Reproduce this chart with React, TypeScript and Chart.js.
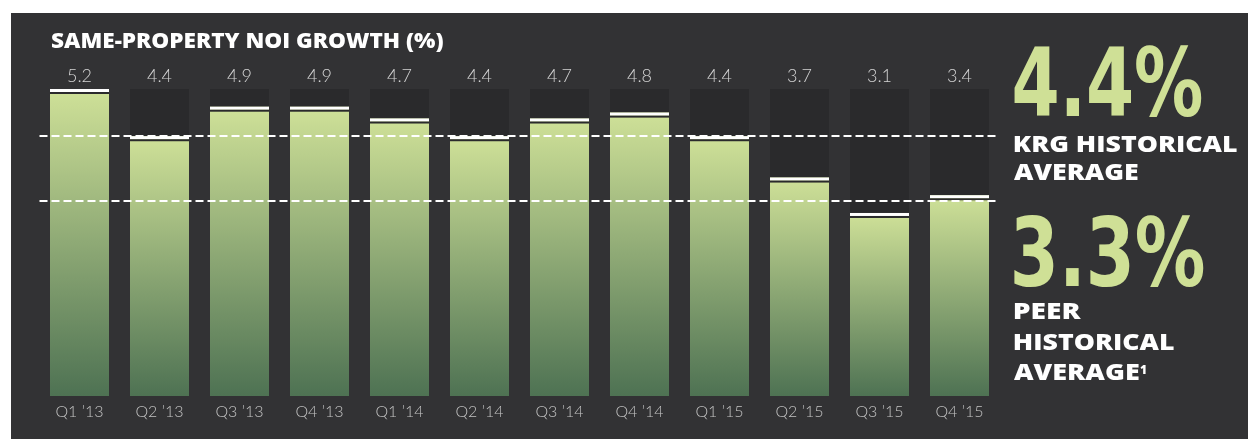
import React, { useEffect, useRef } from "react";
import { Chart, registerables } from "chart.js";

Chart.register(...registerables);

// ---- data ----
const quarters = ["Q1 \u201913", "Q2 \u201913", "Q3 \u201913", "Q4 \u201913", "Q1 \u201914", "Q2 \u201914", "Q3 \u201914", "Q4 \u201914", "Q1 \u201915", "Q2 \u201915", "Q3 \u201915", "Q4 \u201915"];
const noiGrowth = [5.2, 4.4, 4.9, 4.9, 4.7, 4.4, 4.7, 4.8, 4.4, 3.7, 3.1, 3.4];
const trackMax = 5.2;
const trackValues = quarters.map(() => trackMax);
const krgAverage = 4.4;
const peerAverage = 3.3;
const chartTitle = "SAME-PROPERTY NOI GROWTH (%)";
const krgLabelLines = ["KRG HISTORICAL", "AVERAGE"];
const peerLabelLines = ["PEER", "HISTORICAL", "AVERAGE"];

// ---- styles ----
const PANEL = "#323234";
const TRACK = "#2a2a2c";
const GREEN_TOP = "#cfe198";
const GREEN_BOTTOM = "#4e7253";
const TEXT_GREEN = "#cfe096";

function fitText(ctx: CanvasRenderingContext2D, text: string, x: number, y: number, font: string, width: number, color: string) {
  ctx.save();
  ctx.font = font;
  ctx.fillStyle = color;
  ctx.textAlign = "left";
  ctx.textBaseline = "alphabetic";
  const m = ctx.measureText(text);
  const ink = m.actualBoundingBoxLeft + m.actualBoundingBoxRight;
  const s = width / ink;
  ctx.translate(x + m.actualBoundingBoxLeft * s, y);
  ctx.scale(s, 1);
  ctx.fillText(text, 0, 0);
  ctx.restore();
}

const overlayPlugin = {
  id: "overlay",
  afterDatasetsDraw(chart: any) {
    const { ctx, chartArea, scales } = chart;
    const meta = chart.getDatasetMeta(0);
    ctx.save();
    // caps
    meta.data.forEach((bar: any) => {
      const { x, y, width } = bar.getProps(["x", "y", "width"], true);
      ctx.fillStyle = "#ffffff";
      ctx.fillRect(x - width / 2, y, width, 3);
      ctx.fillStyle = TRACK;
      ctx.fillRect(x - width / 2, y + 3, width, 2);
    });
    // value labels
    const labelY = scales.y.getPixelForValue(trackMax) - 7;
    ctx.font = '300 18px Lato, "Open Sans", sans-serif';
    ctx.fillStyle = "#d4d4d4";
    ctx.textAlign = "center";
    ctx.textBaseline = "alphabetic";
    meta.data.forEach((bar: any, i: number) => {
      ctx.fillText(noiGrowth[i].toFixed(1), bar.x, labelY);
    });
    // dashed average lines
    ctx.strokeStyle = "#ffffff";
    ctx.lineWidth = 2;
    ctx.setLineDash([8, 4]);
    [krgAverage, peerAverage].forEach((v) => {
      const y = Math.round(scales.y.getPixelForValue(v));
      ctx.beginPath();
      ctx.moveTo(chartArea.left, y);
      ctx.lineTo(chartArea.right, y);
      ctx.stroke();
    });
    ctx.restore();
  },
  afterDraw(chart: any) {
    const ctx: CanvasRenderingContext2D = chart.ctx;
    // title
    fitText(ctx, chartTitle, 40, 35, '800 21px "Open Sans", sans-serif', 392, "#ffffff");
    const bigFont = 'bold 94px "Liberation Sans Narrow", "DejaVu Sans Condensed", "Liberation Sans", sans-serif';
    const lblFont = '800 23px "Open Sans", sans-serif';
    fitText(ctx, krgAverage.toFixed(1) + "%", 1003, 103, bigFont, 188, TEXT_GREEN);
    fitText(ctx, krgLabelLines[0], 1003, 139, lblFont, 223, "#ffffff");
    fitText(ctx, krgLabelLines[1], 1003, 167, lblFont, 124, "#ffffff");
    fitText(ctx, peerAverage.toFixed(1) + "%", 1003, 273, bigFont, 190, TEXT_GREEN);
    fitText(ctx, peerLabelLines[0], 1003, 306, lblFont, 67, "#ffffff");
    fitText(ctx, peerLabelLines[1], 1003, 337, lblFont, 160, "#ffffff");
    fitText(ctx, peerLabelLines[2], 1003, 367, lblFont, 125, "#ffffff");
    ctx.save();
    ctx.font = '800 12px "Open Sans", sans-serif';
    ctx.fillStyle = "#ffffff";
    ctx.textBaseline = "alphabetic";
    ctx.fillText("1", 1129, 361);
    ctx.restore();
  },
};

export default function App() {
  const canvasRef = useRef<HTMLCanvasElement | null>(null);

  useEffect(() => {
    if (!canvasRef.current) return;
    const chart = new Chart(canvasRef.current, {
      type: "bar",
      data: {
        labels: quarters,
        datasets: [
          {
            label: "Same-property NOI growth",
            data: noiGrowth,
            order: 1,
            grouped: false,
            barPercentage: 0.7375,
            categoryPercentage: 1,
            borderWidth: 0,
            backgroundColor: (c: any) => {
              const { chart: ch } = c;
              const { ctx, chartArea, scales } = ch;
              if (!chartArea || c.raw == null) return GREEN_TOP;
              const top = scales.y.getPixelForValue(c.raw);
              const bottom = scales.y.getPixelForValue(0);
              const g = ctx.createLinearGradient(0, top, 0, bottom);
              g.addColorStop(0, GREEN_TOP);
              g.addColorStop(1, GREEN_BOTTOM);
              return g;
            },
          } as any,
          {
            label: "track",
            data: trackValues,
            order: 2,
            grouped: false,
            barPercentage: 0.7375,
            categoryPercentage: 1,
            borderWidth: 0,
            backgroundColor: TRACK,
          } as any,
        ],
      },
      options: {
        animation: false,
        responsive: false,
        devicePixelRatio: 1,
        layout: { padding: { left: 28.5, right: 248.5, top: 76, bottom: 19.8 } },
        plugins: { legend: { display: false }, tooltip: { enabled: false }, title: { display: false } },
        scales: {
          y: { display: false, min: 0, max: trackMax },
          x: {
            grid: { display: false },
            border: { display: false },
            ticks: {
              color: "#c2c2c2",
              font: { family: 'Lato, "Open Sans", sans-serif', size: 16, weight: "300" as any },
              padding: -2,
              maxRotation: 0,
              autoSkip: false,
            },
          },
        },
      },
      plugins: [overlayPlugin],
    });
    return () => chart.destroy();
  }, []);

  return (
    <div style={{ position: "fixed", left: 11, top: 13, width: 1237, height: 426, background: PANEL }}>
      <canvas ref={canvasRef} width={1237} height={426} style={{ display: "block", width: 1237, height: 426 }} />
    </div>
  );
}
